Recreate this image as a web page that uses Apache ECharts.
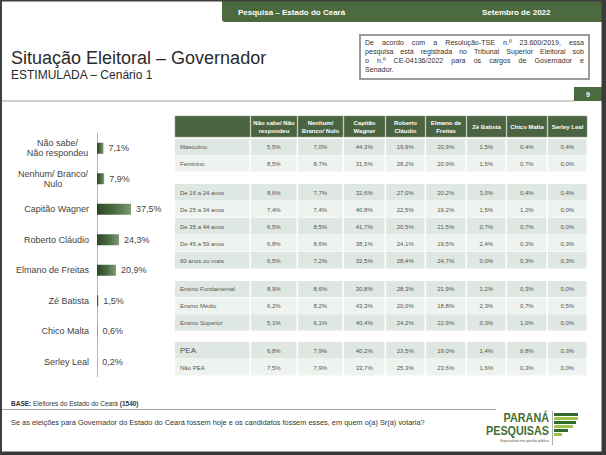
<!DOCTYPE html>
<html><head><meta charset="utf-8">
<script src="https://cdn.jsdelivr.net/npm/echarts@6/dist/echarts.min.js"></script>
<style>html,body{margin:0;padding:0;background:#fff}#c{width:606px;height:455px}</style>
</head><body><div id="c"></div>
<script>
// ---------- data ----------
const candidates = ['Não sabe/\nNão respondeu', 'Nenhum/ Branco/\nNulo', 'Capitão Wagner', 'Roberto Cláudio', 'Elmano de Freitas', 'Zé Batista', 'Chico Malta', 'Serley Leal'];
const totals = [7.1, 7.9, 37.5, 24.3, 20.9, 1.5, 0.6, 0.2];

const tableColumns = ['Não sabe/ Não\nrespondeu', 'Nenhum/\nBranco/ Nulo', 'Capitão\nWagner', 'Roberto\nCláudio', 'Elmano de\nFreitas', 'Zé Batista', 'Chico Malta', 'Serley Leal'];

const sexRows = ['Masculino', 'Feminino'];
const sexValues = [
  [5.5, 7.0, 44.3, 19.9, 20.9, 1.5, 0.4, 0.4],
  [8.5, 8.7, 31.5, 28.2, 20.9, 1.5, 0.7, 0.0]
];
const ageRows = ['De 16 a 24 anos', 'De 25 a 34 anos', 'De 35 a 44 anos', 'De 45 a 59 anos', '60 anos ou mais'];
const ageValues = [
  [8.6, 7.7, 32.6, 27.0, 20.2, 3.0, 0.4, 0.4],
  [7.4, 7.4, 40.8, 22.5, 19.2, 1.5, 1.2, 0.0],
  [6.5, 8.5, 41.7, 20.5, 21.5, 0.7, 0.7, 0.0],
  [6.8, 8.6, 38.1, 24.1, 19.5, 2.4, 0.3, 0.3],
  [6.5, 7.2, 32.5, 28.4, 24.7, 0.0, 0.3, 0.3]
];
const eduRows = ['Ensino Fundamental', 'Ensino Médio', 'Ensino Superior'];
const eduValues = [
  [8.9, 8.6, 30.8, 28.3, 21.9, 1.2, 0.3, 0.0],
  [6.2, 8.2, 43.3, 20.0, 18.8, 2.3, 0.7, 0.5],
  [5.1, 6.1, 40.4, 24.2, 22.9, 0.3, 1.0, 0.0]
];
const peaRows = ['PEA', 'Não PEA'];
const peaValues = [
  [6.8, 7.9, 40.2, 23.5, 19.0, 1.4, 0.8, 0.3],
  [7.5, 7.9, 33.7, 25.3, 23.6, 1.6, 0.3, 0.0]
];

// ---------- layout / style ----------
const FONT = '"Liberation Sans", Arial, sans-serif';
const GREEN = '#4b6a3d';
const HEAD_GREEN = '#4a6340';
const colEdges = [0, 76, 123, 169, 211, 251, 292, 332, 373, 413]; // table column boundaries (table axis units)
const labelSize = { 'PEA': 8 };

const mctx = document.createElement('canvas').getContext('2d');
function textW(t, size, weight) {
  mctx.font = (weight || 'normal') + ' ' + size + 'px "Liberation Sans"';
  return mctx.measureText(t).width;
}
const fmt = v => v.toFixed(1).replace('.', ',') + '%';

const chart = echarts.init(document.getElementById('c'), null, { renderer: 'svg' });

// rich styles for multi-line category labels (lines centered in a right-aligned block)
const rich = {};
candidates.forEach((name, i) => {
  if (name.indexOf('\n') >= 0) {
    const w = Math.max(...name.split('\n').map(s => textW(s, 9)));
    rich['m' + i] = { width: Math.ceil(w) + 1, align: 'center', fontSize: 9, lineHeight: 10, color: '#444', fontFamily: FONT };
  }
});

// ---------- table grids ----------
const groups = [
  { rows: sexRows, values: sexValues, top: 139, height: 33 },
  { rows: ageRows, values: ageValues, top: 184, height: 85 },
  { rows: eduRows, values: eduValues, top: 281, height: 50 },
  { rows: peaRows, values: peaValues, top: 342, height: 34 }
];

const grids = [{ left: 97, top: 133, width: 90.7, height: 244 }, { left: 175, top: 116, width: 413, height: 21 }];
const xAxes = [
  { gridIndex: 0, type: 'value', min: 0, max: 100, show: false },
  { gridIndex: 1, type: 'value', min: 0, max: colEdges[colEdges.length - 1], show: false }
];
const yAxes = [
  {
    gridIndex: 0, type: 'category', data: candidates, inverse: true,
    axisLine: { lineStyle: { color: '#b8b8b8', width: 1 } },
    axisTick: { length: 3, lineStyle: { color: '#b8b8b8' } },
    axisLabel: {
      margin: 8, fontSize: 9, color: '#444', fontFamily: FONT, align: 'right',
      formatter: (val, i) => val.indexOf('\n') >= 0 ? val.split('\n').map(s => '{m' + i + '|' + s + '}').join('\n') : val,
      rich: rich
    }
  },
  { gridIndex: 1, type: 'category', data: [''], show: false }
];

const series = [{
  type: 'bar', xAxisIndex: 0, yAxisIndex: 0, data: totals, barWidth: 11,
  itemStyle: {
    color: new echarts.graphic.LinearGradient(0, 0, 1, 0, [
      { offset: 0, color: '#2b4824' }, { offset: 0.55, color: '#4e6e44' }, { offset: 1, color: '#809a75' }
    ])
  },
  label: { show: true, position: 'right', distance: 5, formatter: p => fmt(p.value), fontSize: 9, color: '#444', fontFamily: FONT }
}];

// header row
series.push({
  type: 'custom', xAxisIndex: 1, yAxisIndex: 1,
  data: [[0, 0]].concat(tableColumns.map((t, i) => [i + 1, 0])),
  encode: { x: 0, y: 1 },
  renderItem: (params, api) => {
    const c = api.value(0);
    const a = api.coord([colEdges[c], 0]);
    const b = api.coord([colEdges[c + 1], 0]);
    const h = api.size([0, 1])[1];
    return {
      type: 'group', children: [
        { type: 'rect', shape: { x: a[0], y: a[1] - h / 2, width: b[0] - a[0] - 1, height: h }, style: { fill: HEAD_GREEN, stroke: '#8ea084', lineWidth: 0.6 } },
        { type: 'text', style: { text: c === 0 ? '' : tableColumns[c - 1], x: (a[0] + b[0] - 1) / 2, y: a[1], align: 'center', verticalAlign: 'middle', fontSize: 6, lineHeight: 8, fontWeight: 'bold', fill: '#ffffff', fontFamily: FONT } }
      ]
    };
  }
});

groups.forEach((g, gi) => {
  const idx = gi + 2;
  grids.push({ left: 175, top: g.top, width: 413, height: g.height });
  xAxes.push({ gridIndex: idx, type: 'value', min: 0, max: colEdges[colEdges.length - 1], show: false });
  yAxes.push({ gridIndex: idx, type: 'category', data: g.rows, inverse: true, show: false });
  const data = [];
  g.rows.forEach((name, r) => {
    data.push([0, r, 0]);
    g.values[r].forEach((v, c) => data.push([c + 1, r, v]));
  });
  series.push({
    type: 'custom', xAxisIndex: idx, yAxisIndex: idx, data: data,
    encode: { x: 0, y: 1 },
    renderItem: (params, api) => {
      const c = api.value(0), r = api.value(1);
      const a = api.coord([colEdges[c], r]);
      const b = api.coord([colEdges[c + 1], r]);
      const h = api.size([0, 1])[1];
      const fill = r % 2 === 0 ? '#dee7e1' : '#eef3ef';
      const name = g.rows[r];
      return {
        type: 'group', children: [
          { type: 'rect', shape: { x: a[0], y: a[1] - h / 2, width: b[0] - a[0] - 1.5, height: h - 0.6 }, style: { fill: fill } },
          {
            type: 'text', style: {
              text: c === 0 ? name : fmt(api.value(2)),
              x: c === 0 ? a[0] + 5 : (a[0] + b[0] - 1.5) / 2, y: a[1],
              align: c === 0 ? 'left' : 'center', verticalAlign: 'middle',
              fontSize: c === 0 && labelSize[name] ? labelSize[name] : 6, fill: '#555', fontFamily: FONT
            }
          }
        ]
      };
    }
  });
});

// ---------- decorative slide elements ----------
const graphics = [];
// header band
graphics.push({ type: 'rect', shape: { x: 222, y: 0, width: 384, height: 22, r: [0, 0, 0, 3] }, style: { fill: GREEN } });
graphics.push({ type: 'text', style: { text: 'Pesquisa – Estado do Ceará', x: 238, y: 12, verticalAlign: 'middle', fontSize: 8, fontWeight: 'bold', fill: '#fff', fontFamily: FONT } });
graphics.push({ type: 'text', style: { text: 'Setembro de 2022', x: 482, y: 12, verticalAlign: 'middle', fontSize: 8, fontWeight: 'bold', fill: '#fff', fontFamily: FONT } });
// titles
graphics.push({ type: 'text', style: { text: 'Situação Eleitoral – Governador', x: 11, y: 58, verticalAlign: 'middle', fontSize: 18, fill: '#2b2b2b', fontFamily: FONT } });
graphics.push({ type: 'text', style: { text: 'ESTIMULADA – Cenário 1', x: 11, y: 75, verticalAlign: 'middle', fontSize: 12, fill: '#2b2b2b', fontFamily: FONT } });
// registration box
graphics.push({ type: 'rect', shape: { x: 360, y: 35, width: 229, height: 44 }, style: { fill: '#fff', stroke: '#9a9a9a', lineWidth: 2 } });
const boxLines = ['De acordo com a Resolução-TSE n.º 23.600/2019, essa', 'pesquisa está registrada no Tribunal Superior Eleitoral sob', 'o n.º CE-04136/2022 para os cargos de Governador e', 'Senador.'];
const BX0 = 365, BX1 = 584, BFS = 7.1;
boxLines.forEach((line, li) => {
  const y = 43 + li * 9;
  const words = line.split(' ');
  if (li === boxLines.length - 1) {
    graphics.push({ type: 'text', style: { text: line, x: BX0, y: y, verticalAlign: 'middle', fontSize: BFS, fill: '#333', fontFamily: FONT } });
    return;
  }
  const ws = words.map(w => textW(w, BFS));
  const gap = (BX1 - BX0 - ws.reduce((s, v) => s + v, 0)) / (words.length - 1);
  let x = BX0;
  words.forEach((w, wi) => {
    graphics.push({ type: 'text', style: { text: w, x: x, y: y, verticalAlign: 'middle', fontSize: BFS, fill: '#333', fontFamily: FONT } });
    x += ws[wi] + gap;
  });
});
// separator + page number
graphics.push({ type: 'rect', shape: { x: 2, y: 100, width: 572, height: 2 }, style: { fill: '#d0d0d0' } });
graphics.push({ type: 'rect', shape: { x: 574, y: 87, width: 28, height: 14 }, style: { fill: GREEN } });
graphics.push({ type: 'text', style: { text: '9', x: 588, y: 94, align: 'center', verticalAlign: 'middle', fontSize: 7, fontWeight: 'bold', fill: '#fff', fontFamily: FONT } });
// footer
graphics.push({ type: 'text', style: { text: '{b|BASE:} Eleitores do Estado do Ceará {b|(1540)}', x: 11, y: 403, verticalAlign: 'middle', fontSize: 6.5, fill: '#333', fontFamily: FONT, rich: { b: { fontWeight: 'bold', fontSize: 6.5, fill: '#333', fontFamily: FONT } } } });
graphics.push({ type: 'rect', shape: { x: 2, y: 409, width: 494, height: 1 }, style: { fill: '#a8a8a8' } });
graphics.push({ type: 'text', style: { text: 'Se as eleições para Governador do Estado do Ceará fossem hoje e os candidatos fossem esses, em quem o(a) Sr(a) votaria?', x: 11, y: 422, verticalAlign: 'middle', fontSize: 7.4, fill: '#333', fontFamily: FONT } });
// logo
graphics.push({ type: 'text', x: 549, y: 418, scaleX: 0.8, style: { text: 'PARANÁ', x: 0, y: 0, align: 'right', verticalAlign: 'middle', fontSize: 13.5, fontWeight: 'bold', fill: '#3f6f2f', fontFamily: FONT } });
graphics.push({ type: 'text', x: 549, y: 431, scaleX: 0.8, style: { text: 'PESQUISAS', x: 0, y: 0, align: 'right', verticalAlign: 'middle', fontSize: 13.5, fontWeight: 'bold', fill: '#3f6f2f', fontFamily: FONT } });
graphics.push({ type: 'text', style: { text: 'Especialista em opinião pública', x: 549, y: 441, align: 'right', verticalAlign: 'middle', fontSize: 3.5, fill: '#555', fontFamily: FONT } });
graphics.push({ type: 'rect', shape: { x: 552, y: 411, width: 0.6, height: 34 }, style: { fill: '#777' } });
[[413, 24, '#2f6a2a'], [417, 24, '#9cc24a'], [421, 22, '#2f6a2a'], [425, 19, '#9cc24a'], [429, 14, '#2f6a2a'], [433, 8, '#9cc24a']].forEach(s => {
  graphics.push({ type: 'rect', shape: { x: 554, y: s[0], width: s[1], height: 3 }, style: { fill: s[2] } });
});
// frame
graphics.push({ type: 'rect', shape: { x: 0, y: 0, width: 606, height: 1.5 }, style: { fill: '#404040' } });
graphics.push({ type: 'rect', shape: { x: 0, y: 0, width: 2, height: 455 }, style: { fill: '#404040' } });
graphics.push({ type: 'rect', shape: { x: 601.5, y: 0, width: 4.5, height: 455 }, style: { fill: '#3a3a3a' } });
graphics.push({ type: 'rect', shape: { x: 0, y: 451.5, width: 606, height: 3.5 }, style: { fill: '#3a3a3a' } });

chart.setOption({
  animation: false,
  backgroundColor: '#ffffff',
  grid: grids,
  xAxis: xAxes,
  yAxis: yAxes,
  series: series,
  graphic: { elements: graphics }
});
</script>
</body></html>
